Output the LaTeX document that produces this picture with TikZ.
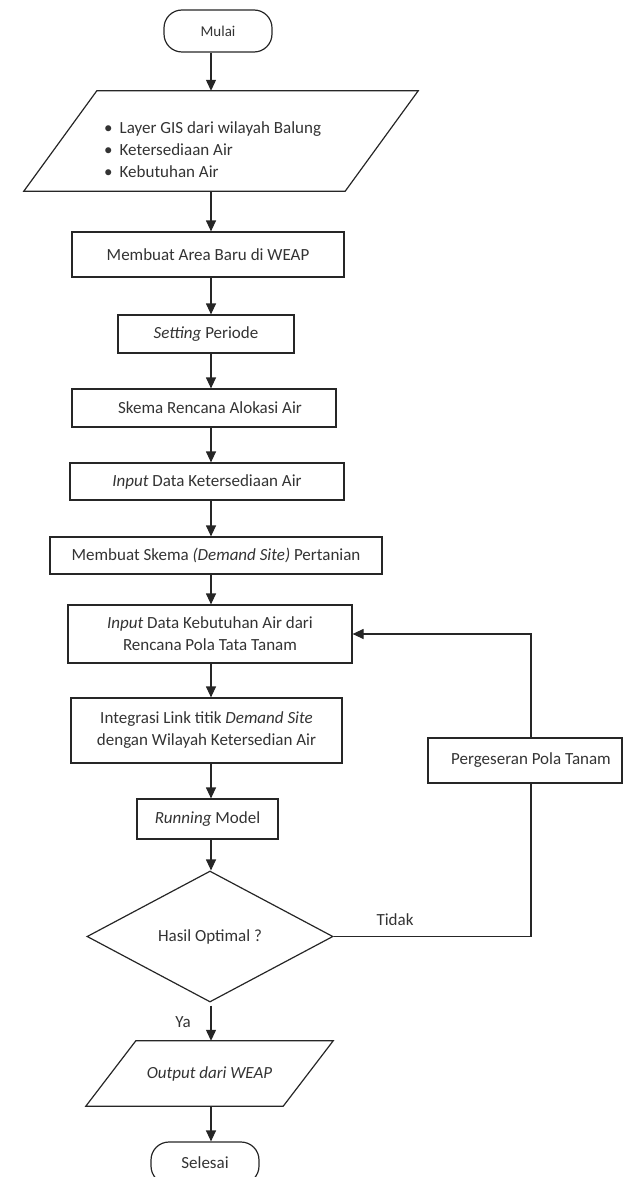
\documentclass[tikz,border=0pt]{standalone}
\usepackage{fontspec}
\setmainfont{Carlito}
\usetikzlibrary{arrows.meta,shapes.geometric}
\definecolor{txt}{HTML}{333333}
\definecolor{ln}{HTML}{262626}
\tikzset{
  line/.style={draw=ln, line width=1.2pt},
  arr/.style={line, -{Triangle[length=11pt,width=10pt]}},
  box/.style={line, rectangle, inner sep=0pt, align=center, text=txt},
  term/.style={line, rectangle, rounded corners=18pt, inner sep=0pt, text=txt},
  plain/.style={inner sep=0pt, text=txt, align=center},
  dec/.style={line, diamond, inner sep=0pt, text=txt, aspect=1.88},
  lbl/.style={inner sep=0pt, text=txt}
}
\begin{document}
\begin{tikzpicture}[x=1pt,y=-1pt,font=\fontsize{17}{22}\selectfont]
\useasboundingbox (0,0) rectangle (627,1177);
\coordinate (ax) at (211,0);
\coordinate (lp) at (531,0);

\node[term, minimum width=108pt, minimum height=42pt] (start) at (218,31) {\fontsize{15}{18}\selectfont Mulai};

\node[plain, minimum width=394pt, minimum height=100pt] (inp) at (221,141) {};
\draw[line] ([xshift=73pt]inp.north west) -- (inp.north east) -- ([xshift=-73pt]inp.south east) -- (inp.south west) -- cycle;
\node[plain, align=left, anchor=west] (inptxt) at (104,150) {\textbullet\hspace{7pt}Layer GIS dari wilayah Balung\\ \textbullet\hspace{7pt}Ketersediaan Air\\ \textbullet\hspace{7pt}Kebutuhan Air};

\node[box, minimum width=272pt, minimum height=45pt] (b1) at (208,254.5) {Membuat Area Baru di WEAP};
\node[box, minimum width=176pt, minimum height=38pt] (b2) at (206,334) {\textit{Setting} Periode};
\node[box, minimum width=264pt, minimum height=38pt] (b3) at (204,408) {\hspace{12pt}Skema Rencana Alokasi Air};
\node[box, minimum width=274pt, minimum height=37pt] (b4) at (207,481.5) {\textit{Input} Data Ketersediaan Air};
\node[box, minimum width=332pt, minimum height=37pt] (b5) at (216,555.5) {Membuat Skema \textit{(Demand Site)} Pertanian};
\node[box, minimum width=284pt, minimum height=58pt] (b6) at (210,634) {\textit{Input} Data Kebutuhan Air dari\\ Rencana Pola Tata Tanam};
\node[box, minimum width=271pt, minimum height=65pt] (b7) at (206.5,730.5) {Integrasi Link titik \textit{Demand Site}\\ dengan Wilayah Ketersedian Air};
\node[box, minimum width=141pt, minimum height=40pt] (b8) at (207.5,819) {\textit{Running} Model};
\node[dec, minimum width=246pt, minimum height=131pt] (dec) at (210,936.5) {Hasil Optimal ?};
\node[box, minimum width=194pt, minimum height=45pt] (peg) at (525,760.5) {\hspace{12pt}Pergeseran Pola Tanam};

\node[plain, minimum width=247pt, minimum height=65pt] (out) at (209.5,1073.5) {\textit{Output dari WEAP}};
\draw[line] ([xshift=50pt]out.north west) -- (out.north east) -- ([xshift=-50pt]out.south east) -- (out.south west) -- cycle;

\node[term, minimum width=108pt, minimum height=42pt] (stop) at (205,1163) {Selesai};

\draw[arr] (start.south -| ax) -- (inp.north -| ax);
\draw[arr] (inp.south -| ax) -- (b1.north -| ax);
\draw[arr] (b1.south -| ax) -- (b2.north -| ax);
\draw[arr] (b2.south -| ax) -- (b3.north -| ax);
\draw[arr] (b3.south -| ax) -- (b4.north -| ax);
\draw[arr] (b4.south -| ax) -- (b5.north -| ax);
\draw[arr] (b5.south -| ax) -- (b6.north -| ax);
\draw[arr] (b6.south -| ax) -- (b7.north -| ax);
\draw[arr] (b7.south -| ax) -- (b8.north -| ax);
\draw[arr] (b8.south -| ax) -- (dec.north -| ax);
\draw[arr] ([yshift=-3pt]dec.south -| ax) -- (out.north -| ax);
\draw[arr] (out.south -| ax) -- (stop.north -| ax);

\draw[line] (dec.east) -- (dec.east -| lp) -- (peg.south -| lp);
\draw[arr] (peg.north -| lp) |- (b6.east);

\node[lbl] (tidak) at (395,920) {Tidak};
\node[lbl] (ya) at (183,1022) {Ya};
\end{tikzpicture}
\end{document}
